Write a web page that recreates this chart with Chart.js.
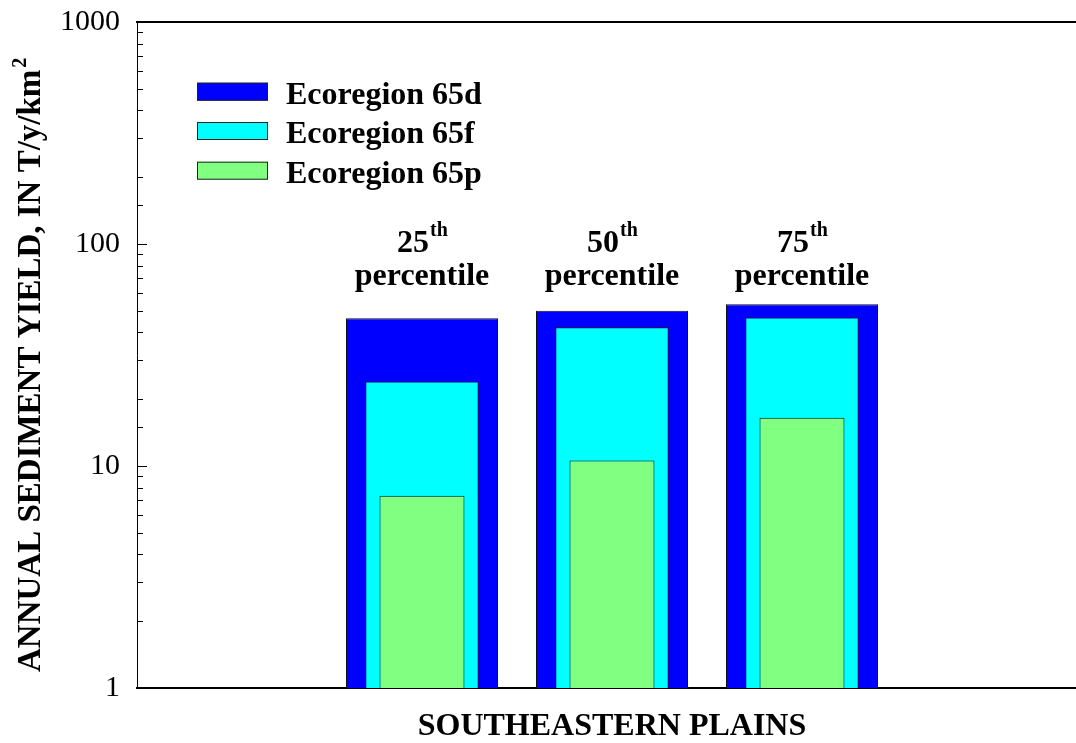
<!DOCTYPE html>
<html>
<head>
<meta charset="utf-8">
<script src="https://cdn.jsdelivr.net/npm/chart.js@4/dist/chart.umd.min.js"></script>
<style>
  html, body { margin: 0; padding: 0; background: #fff; overflow: hidden; }
  #wrap { width: 1087px; height: 743px; position: relative; }
</style>
</head>
<body>
<div id="wrap"><canvas id="c"></canvas></div>
<script>
// ---- data ----
const categories = ['', '25th percentile', '50th percentile', '75th percentile', ''];
const percentileNumbers = ['25', '50', '75'];
const seriesLabels = ['Ecoregion 65d', 'Ecoregion 65f', 'Ecoregion 65p'];
const eco65d = [null, 46.3, 50.1, 53.5, null];
const eco65f = [null, 24.0, 42.2, 46.6, null];
const eco65p = [null, 7.35, 10.6, 16.5, null];
const yTickLabels = [1, 10, 100, 1000];
const xTitle = 'SOUTHEASTERN PLAINS';
const yTitleMain = 'ANNUAL SEDIMENT YIELD, IN T/y/km';
const yTitleSup = '2';

const SERIF = "'Liberation Serif', 'Times New Roman', serif";

const overlayPlugin = {
  id: 'overlay',
  afterDraw(chart) {
    const ctx = chart.ctx;
    const y = chart.scales.y;
    const x = chart.scales.x;
    const area = chart.chartArea;
    ctx.save();
    // inward tick marks on left axis
    ctx.strokeStyle = '#000';
    ctx.lineWidth = 1;
    y.ticks.forEach(t => {
      const v = t.value;
      const p = Math.round(y.getPixelForValue(v)) + 0.5;
      const isMajor = yTickLabels.includes(v);
      const len = isMajor ? 10 : 6;
      ctx.beginPath();
      ctx.moveTo(area.left, p);
      ctx.lineTo(area.left + len, p);
      ctx.stroke();
    });
    // y axis title (rotated, with superscript)
    ctx.save();
    ctx.translate(40, 672);
    ctx.rotate(-Math.PI / 2);
    ctx.fillStyle = '#000';
    ctx.textAlign = 'left';
    ctx.textBaseline = 'alphabetic';
    ctx.font = 'bold 33px ' + SERIF;
    ctx.fillText(yTitleMain, 0, 0);
    const wMain = ctx.measureText(yTitleMain).width;
    ctx.font = 'bold 20px ' + SERIF;
    ctx.fillText(yTitleSup, wMain + 2, -14);
    ctx.restore();
    // legend
    const ds = chart.data.datasets;
    const boxTops = [82.7, 122, 161.7];
    ds.forEach((d, i) => {
      const top = boxTops[i];
      ctx.fillStyle = d.backgroundColor;
      ctx.fillRect(197, top, 71, 18);
      ctx.strokeStyle = '#222';
      ctx.lineWidth = 1;
      ctx.strokeRect(197.5, top + 0.5, 70, 17);
      ctx.fillStyle = '#000';
      ctx.font = 'bold 32px ' + SERIF;
      ctx.textAlign = 'left';
      ctx.textBaseline = 'alphabetic';
      ctx.fillText(d.label, 286, top + 20.8);
    });
    // percentile labels above groups
    percentileNumbers.forEach((num, i) => {
      const cx = x.getPixelForValue(i + 1);
      ctx.fillStyle = '#000';
      ctx.textBaseline = 'alphabetic';
      ctx.font = 'bold 32px ' + SERIF;
      const w1 = ctx.measureText(num).width;
      ctx.font = 'bold 20px ' + SERIF;
      const w2 = ctx.measureText('th').width;
      const start = cx - (w1 + w2) / 2;
      ctx.font = 'bold 32px ' + SERIF;
      ctx.textAlign = 'left';
      ctx.fillText(num, start, 252);
      ctx.font = 'bold 20px ' + SERIF;
      ctx.fillText('th', start + w1 + 1, 236);
      ctx.font = 'bold 32px ' + SERIF;
      ctx.textAlign = 'center';
      ctx.fillText('percentile', cx, 285);
    });
    ctx.restore();
  }
};

new Chart(document.getElementById('c'), {
  type: 'bar',
  data: {
    labels: categories,
    datasets: [
      { label: seriesLabels[0], data: eco65d, backgroundColor: '#0000FF', borderColor: '#111', borderWidth: 1,
        grouped: false, categoryPercentage: 1, barPercentage: 0.8, order: 3 },
      { label: seriesLabels[1], data: eco65f, backgroundColor: '#00FFFF', borderColor: '#111', borderWidth: 1,
        grouped: false, categoryPercentage: 1, barPercentage: 0.597, order: 2 },
      { label: seriesLabels[2], data: eco65p, backgroundColor: '#80FF80', borderColor: '#111', borderWidth: 1,
        grouped: false, categoryPercentage: 1, barPercentage: 0.447, order: 1 }
    ]
  },
  options: {
    responsive: true,
    maintainAspectRatio: false,
    animation: false,
    layout: { padding: { top: 22, left: 0, right: 0, bottom: 0 } },
    plugins: { legend: { display: false }, tooltip: { enabled: false } },
    scales: {
      x: {
        type: 'category',
        position: 'bottom',
        offset: true,
        grid: { display: false, drawTicks: false },
        border: { display: true, color: '#000', width: 2 },
        ticks: { display: false },
        title: { display: true, text: xTitle, color: '#000',
                 font: { family: SERIF, size: 32, weight: 'bold', lineHeight: 1 },
                 padding: { top: 0, bottom: 0 } },
        afterFit(s) { s.height = 55; s.paddingLeft = 0; s.paddingRight = 0; }
      },
      xTop: {
        type: 'category',
        position: 'top',
        labels: categories,
        grid: { display: false, drawTicks: false },
        border: { display: true, color: '#000', width: 2 },
        ticks: { display: false },
        afterFit(s) { s.height = 0; s.paddingLeft = 0; s.paddingRight = 0; }
      },
      y: {
        type: 'logarithmic',
        min: 1,
        max: 1000,
        position: 'left',
        grid: { display: false, drawTicks: false },
        border: { display: true, color: '#000', width: 1 },
        ticks: {
          color: '#000',
          padding: 17,
          autoSkip: false,
          font: { family: SERIF, size: 30 },
          callback: (v) => yTickLabels.includes(v) ? String(v) : ''
        },
        title: { display: false },
        afterFit(s) { s.width = 137; s.paddingTop = 0; s.paddingBottom = 0; }
      }
    }
  },
  plugins: [overlayPlugin]
});
</script>
</body>
</html>
